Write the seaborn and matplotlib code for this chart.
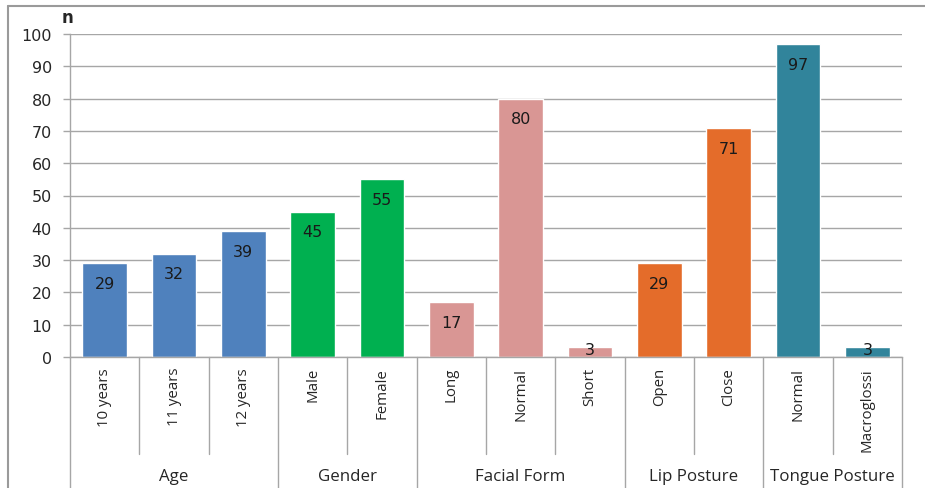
import matplotlib
matplotlib.use("Agg")
import matplotlib.pyplot as plt
import seaborn as sns
import pandas as pd
from matplotlib.lines import Line2D

categories = ["10 years", "11 years", "12 years", "Male", "Female", "Long", "Normal",
              "Short", "Open", "Close", "Normal", "Macroglossi"]
groups = ["Age", "Age", "Age", "Gender", "Gender", "Facial Form", "Facial Form",
          "Facial Form", "Lip Posture", "Lip Posture", "Tongue Posture", "Tongue Posture"]
values = [29, 32, 39, 45, 55, 17, 80, 3, 29, 71, 97, 3]
group_names = ["Age", "Gender", "Facial Form", "Lip Posture", "Tongue Posture"]
group_colors = ["#4F81BD", "#00B050", "#D99694", "#E46C2A", "#31849B"]
y_ticks = [0, 10, 20, 30, 40, 50, 60, 70, 80, 90, 100]

sns.set_theme(style="white")
plt.rcParams['font.family'] = ['DejaVu Sans']

df = pd.DataFrame({"pos": [str(i) for i in range(len(categories))],
                   "cat": categories, "group": groups, "n": values})
color_map = dict(zip(group_names, group_colors))

fig = plt.figure(figsize=(9.25, 4.89), dpi=100)
ax = fig.add_axes([70/925, 1-358/489, 832/925, 323/489])

sns.barplot(data=df, x="pos", y="n", hue="group", palette=color_map, dodge=False,
            width=0.64, legend=False, ax=ax, saturation=1)

ax.set_ylim(0, 100)
ax.set_xlim(-0.5, len(categories) - 0.5)
ax.set_yticks(y_ticks)
ax.yaxis.grid(True, color="#A6A6A6", linewidth=1)
ax.set_axisbelow(True)
ax.tick_params(axis="y", length=5, width=1, color="#A6A6A6", labelsize=11.5,
               labelcolor="#262626", left=True, pad=8)
ax.tick_params(axis="x", bottom=False, labelbottom=False)
ax.set_xlabel("")
ax.set_ylabel("")
for s in ["top", "right"]:
    ax.spines[s].set_visible(False)
for s in ["left", "bottom"]:
    ax.spines[s].set_color("#A6A6A6")
    ax.spines[s].set_linewidth(1)

# value labels (inside end)
for i, v in enumerate(values):
    ylab = max(v - 6.3, 2.2)
    ax.text(i, ylab, str(v), ha="center", va="center", fontsize=11.5, color="#1a1a1a")

# 'n' label
fig.text(62/925, 1-18/489, "n", fontsize=12, fontweight="bold", ha="left", va="center")

trans = ax.get_xaxis_transform()
axis_y = 1 - 358/489
def fig_y_to_ax(py):
    return (1 - py/489 - axis_y) / (323/489)

for i, c in enumerate(categories):
    ax.text(i, fig_y_to_ax(368), c, transform=trans, rotation=90, ha="center", va="top",
            fontsize=10.8, color="#262626", family=["Open Sans", "DejaVu Sans"],
            clip_on=False)

bounds = [-0.5] + [i - 0.5 for i in range(1, len(groups))] + [len(groups) - 0.5]
for b in bounds:
    idx_r = int(b + 0.5)
    is_group = (b == -0.5 or b == len(groups) - 0.5 or groups[idx_r] != groups[idx_r - 1])
    ybot = fig_y_to_ax(489) if is_group else fig_y_to_ax(455)
    ax.add_line(Line2D([b, b], [0, ybot], transform=trans, color="#A6A6A6",
                       linewidth=1, clip_on=False))

for gname in group_names:
    idxs = [i for i, g in enumerate(groups) if g == gname]
    center = (idxs[0] + idxs[-1]) / 2
    ax.text(center, fig_y_to_ax(477), gname, transform=trans, ha="center", va="center",
            fontsize=12.2, color="#262626", family=["Open Sans", "DejaVu Sans"], clip_on=False)

fig.add_artist(Line2D([8/925, 8/925], [0, 1-7/489], color="#9a9a9a", linewidth=1.5))
fig.add_artist(Line2D([8/925, 1], [1-7/489, 1-7/489], color="#9a9a9a", linewidth=1.5))

fig.savefig("out.png", dpi=100)
